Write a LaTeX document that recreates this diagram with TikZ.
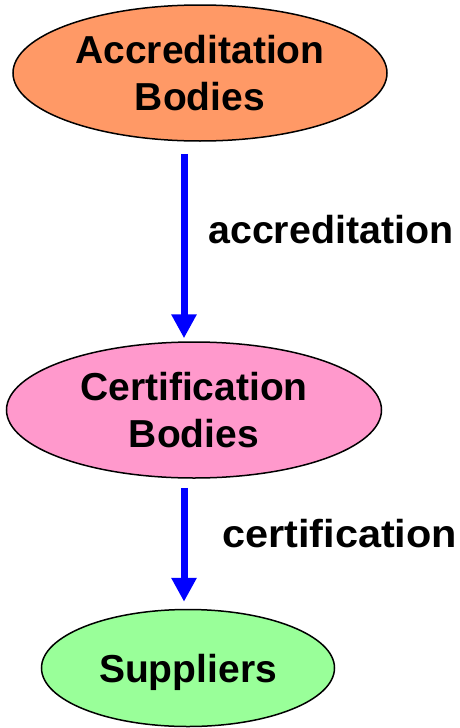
\documentclass[tikz,border=0pt]{standalone}
\usepackage{fontspec}
\usepackage{graphicx}
\setmainfont{Liberation Sans}
\usetikzlibrary{arrows.meta,calc,shapes.geometric}
\definecolor{accfill}{HTML}{FF9966}
\definecolor{certfill}{HTML}{FF99CC}
\definecolor{supfill}{HTML}{99FF99}
\definecolor{arrowblue}{HTML}{0000FF}
\tikzset{
  body/.style={ellipse, draw=black, line width=1.5pt, inner sep=0pt, align=center,
    font=\fontsize{39}{47}\selectfont\bfseries},
  flow/.style={draw=arrowblue, line width=7pt,
    -{Triangle[width=24pt,length=24pt]}},
  lbl/.style={inner sep=0pt, anchor=base west, font=\fontsize{39}{47}\selectfont\bfseries}
}
\begin{document}
\begin{tikzpicture}[x=1pt,y=-1pt]
\useasboundingbox (0,0) rectangle (460,728);
\node[body, fill=accfill, minimum width=374pt, minimum height=136pt] (acc) at (200,73) {Accreditation\\Bodies};
\node[body, fill=certfill, minimum width=375pt, minimum height=136pt] (cert) at (194,410) {Certification\\Bodies};
\node[body, fill=supfill, minimum width=293pt, minimum height=117pt, text depth=0pt] (sup) at (188,668) {Suppliers};
\coordinate (ax) at (184,0);
\draw[flow, shorten <=12pt, shorten >=3pt] (acc.south -| ax) -- (cert.north -| ax);
\draw[flow, shorten <=9pt, shorten >=7pt] (cert.south -| ax) -- (sup.north -| ax);
\node[lbl] (l1) at (208,243) {\scalebox{1.01}[1]{accreditation}};
\node[lbl] (l2) at (222,547) {\scalebox{1.063}[1]{certification}};
\end{tikzpicture}
\end{document}
